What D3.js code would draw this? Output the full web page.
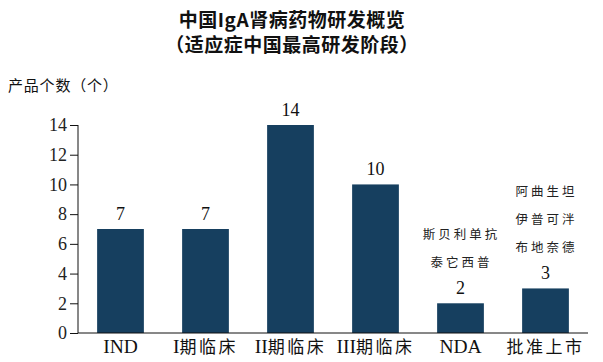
<!DOCTYPE html>
<html>
<head>
<meta charset="utf-8">
<script src="https://cdn.jsdelivr.net/npm/d3@7"></script>
<style>
body { margin: 0; background: #fff; }
</style>
</head>
<body>
<div id="chart"></div>
<script>
var categories = ["IND", "I期临床", "II期临床", "III期临床", "NDA", "批准上市"];
var values = [7, 7, 14, 10, 2, 3];
var drugNotes = [[], [], [], [], ["斯贝利单抗", "泰它西普"], ["阿曲生坦", "伊普可泮", "布地奈德"]];
var yTicks = [0, 2, 4, 6, 8, 10, 12, 14];

var serif = "'Liberation Serif', 'Noto Sans CJK SC', serif";
var cjk = "'Noto Sans CJK SC', 'Liberation Serif', serif";
var barColor = "#163f5f";

var svg = d3.select("#chart")
    .append("svg")
    .attr("width", 603)
    .attr("height", 362);

var x = d3.scaleBand()
    .domain(categories)
    .range([78, 588])
    .paddingInner(0.45)
    .paddingOuter(0.225);

var y = d3.scaleLinear()
    .domain([0, 14])
    .range([333, 125]);

// title
svg.append("text")
    .attr("x", 292)
    .attr("y", 27)
    .attr("text-anchor", "middle")
    .attr("font-family", cjk)
    .attr("font-weight", "bold")
    .attr("font-size", 19)
    .attr("letter-spacing", 0.5)
    .attr("fill", "#111")
    .text("中国IgA肾病药物研发概览");
svg.append("text")
    .attr("x", 292)
    .attr("y", 52)
    .attr("text-anchor", "middle")
    .attr("font-family", cjk)
    .attr("font-weight", "bold")
    .attr("font-size", 19)
    .attr("letter-spacing", 0.5)
    .attr("fill", "#111")
    .text("（适应症中国最高研发阶段）");

svg.append("text")
    .attr("x", 8)
    .attr("y", 91)
    .attr("font-family", cjk)
    .attr("font-size", 15)
    .attr("letter-spacing", 0.8)
    .attr("fill", "#111")
    .text("产品个数（个）");

// bars
svg.selectAll("rect.bar")
    .data(values)
    .enter()
    .append("rect")
    .attr("class", "bar")
    .attr("x", function (d, i) { return x(categories[i]); })
    .attr("y", function (d) { return y(d); })
    .attr("width", x.bandwidth())
    .attr("height", function (d) { return y(0) - y(d); })
    .style("fill", barColor);

// value labels
svg.selectAll("text.val")
    .data(values)
    .enter()
    .append("text")
    .attr("class", "val")
    .attr("x", function (d, i) { return x(categories[i]) + x.bandwidth() / 2; })
    .attr("y", function (d) { return y(d) - 9; })
    .attr("text-anchor", "middle")
    .attr("font-family", serif)
    .attr("font-size", 18)
    .attr("fill", "#111")
    .text(function (d) { return d; });

// drug names above the last bars
drugNotes.forEach(function (names, i) {
    var cx = x(categories[i]) + x.bandwidth() / 2;
    var top = y(values[i]) - 36;
    names.forEach(function (n, k) {
        svg.append("text")
            .attr("x", cx + 1)
            .attr("y", top - (names.length - 1 - k) * 28)
            .attr("text-anchor", "middle")
            .attr("font-family", cjk)
            .attr("font-size", 12.5)
            .attr("letter-spacing", 3)
            .attr("fill", "#222")
            .text(n);
    });
});

// axes
var yAxis = svg.append("g")
    .attr("transform", "translate(78,0)")
    .call(d3.axisLeft(y).tickValues(yTicks).tickSize(8).tickPadding(3));
yAxis.selectAll("text")
    .attr("font-family", serif)
    .attr("font-size", 18)
    .attr("fill", "#222");
yAxis.select(".domain").attr("d", "M0," + y(14) + "V" + y(0));
yAxis.selectAll("line, path").attr("stroke", "#111");

var xAxis = svg.append("g")
    .attr("transform", "translate(0,333)")
    .call(d3.axisBottom(x).tickSize(0));
xAxis.select(".domain").attr("d", "M78,0H588").attr("stroke", "#111");
// latin part larger, chinese part spaced out
xAxis.selectAll("text")
    .attr("y", 20)
    .attr("dy", 0)
    .attr("font-family", serif)
    .attr("fill", "#111")
    .text(null)
    .each(function (d) {
        var m = d.match(/^([A-Z]*)(.*)$/);
        var t = d3.select(this);
        if (m[1]) {
            t.append("tspan").attr("font-size", 19.5).text(m[1]);
        }
        if (m[2]) {
            t.append("tspan").attr("font-size", 17).attr("letter-spacing", 2.5).text(m[2]);
        }
    });
</script>
</body>
</html>
